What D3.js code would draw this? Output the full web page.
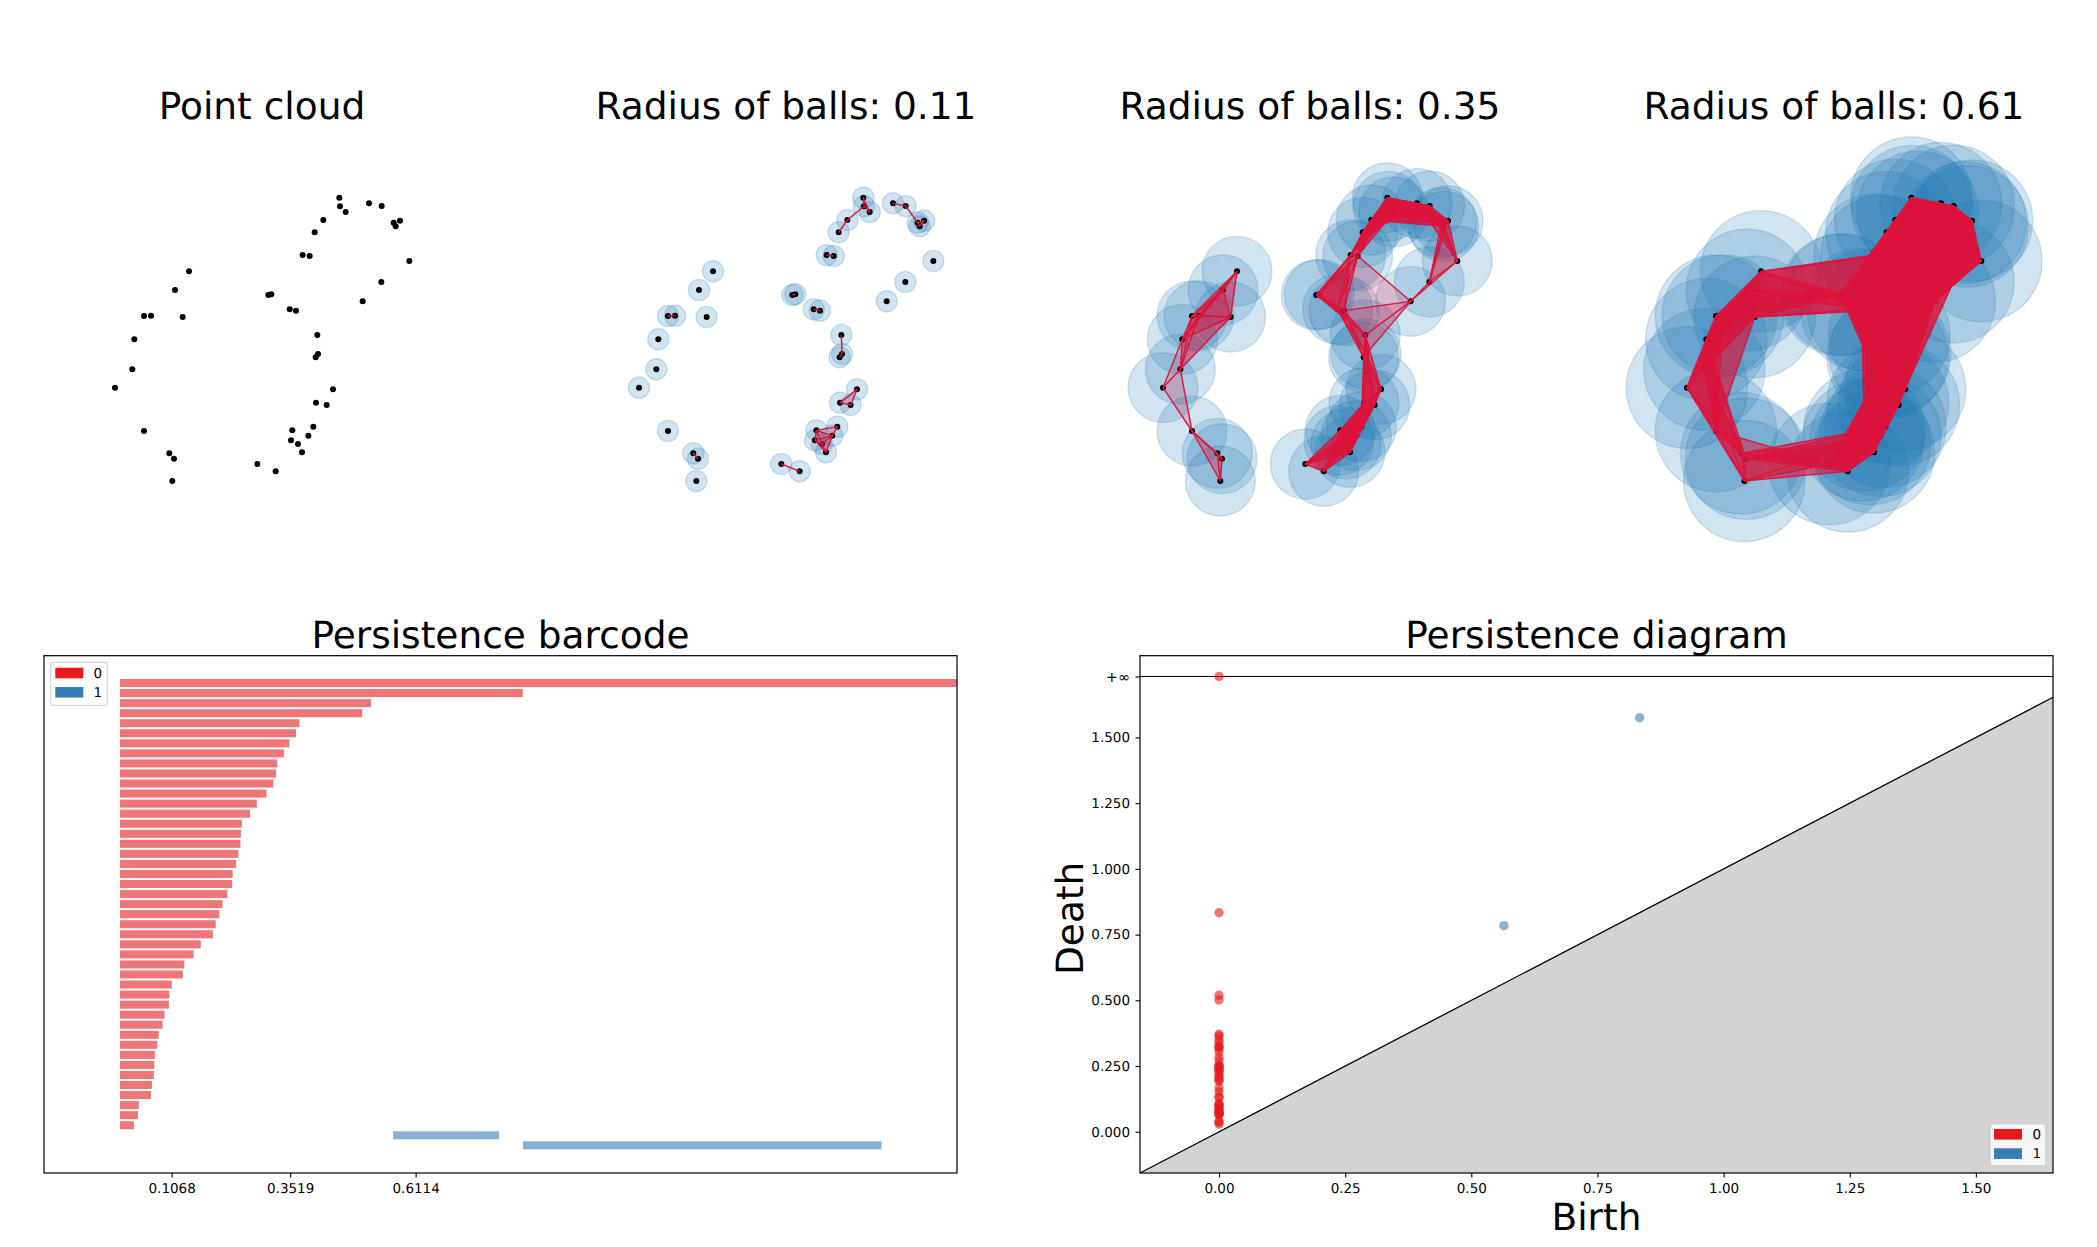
<!DOCTYPE html>
<html><head><meta charset="utf-8">
<script src="https://cdn.jsdelivr.net/npm/d3@7/dist/d3.min.js"></script>
<style>html,body{margin:0;padding:0;background:#fff}svg{display:block}text{font-family:"DejaVu Sans",sans-serif;fill:#000;text-rendering:geometricPrecision}</style>
</head><body><script>
// ---- data ----
const cloudX=[1.0977,.9567,.6445,.7150,1.0339,.5472,.5270,.3525,.6445,.8996,.9466,.9298,1.7858,1.9705,2.2357,2.1954,2.1249,2.1383,2.2994,2.3498,2.3766,2.4841,2.5478,2.3733,2.3968,2.3901,2.1115,2.1752,1.8966,1.9268,2.2424,2.3128,2.3632,2.4505,2.6116,2.6183,2.6754,2.9104,3.0379,3.1588,3.1789,3.2226,3.3165,3.0346,2.8466];
const cloudY=[2.1349,1.9470,1.6851,1.6885,1.6751,1.4502,1.1480,.9634,.5270,.3021,.2484,.0235,.1947,.1208,.3122,.3961,.4330,.5337,.4800,.5707,.8124,.7889,.9466,1.2689,1.3025,1.4938,1.7523,1.7389,1.8966,1.9033,2.2994,2.2894,2.5277,2.6519,2.8768,2.7895,2.7325,2.8197,2.7929,2.6250,2.5881,2.6452,2.2390,2.0275,1.8328];
const radii=[0.1068,0.3519,0.6114];
const panelTitles=["Point cloud","Radius of balls: 0.11","Radius of balls: 0.35","Radius of balls: 0.61"];
const deaths0=[.833,.519,.501,.371,.364,.350,.339,.325,.323,.317,.303,.283,.269,.252,.250,.249,.245,.240,.233,.232,.222,.212,.205,.198,.192,.167,.152,.133,.130,.107,.102,.101,.092,.088,.080,.077,.072,.071,.070,.066,.064,.039,.037,.029];
const births1=[.5646,.8335];
const deaths1=[.784,1.575];
const barTicks=[0.1068,0.3519,0.6114];
const diagXTicks=[0,.25,.5,.75,1,1.25,1.5];
const diagYTicks=[0,.25,.5,.75,1,1.25,1.5];
const INF_LEVEL=1.732;
const legendLabels=["0","1"];
const dimColors=["#e41a1c","#377eb8"];
// ---- layout ----
const W=2097,H=1247;
const svg=d3.select("body").append("svg").attr("width",W).attr("height",H);
const UNIT=99.3, PANEL_DX=524, EDGE_FACTOR=2.09;
const titleSize=37.5,tickSize=13.5;
const cx=d3.scaleLinear().domain([0,1]).range([80,80+UNIT]);
const cy=d3.scaleLinear().domain([0,1]).range([483.33,483.33-UNIT]);
const n=cloudX.length;
const dist=(a,b)=>Math.hypot(cloudX[a]-cloudX[b],cloudY[a]-cloudY[b]);

panelTitles.forEach((t,p)=>{
  const g=svg.append("g").attr("transform",`translate(${p*PANEL_DX},0)`);
  svg.append("text").attr("x",262+p*PANEL_DX).attr("y",119).attr("text-anchor","middle").attr("font-size",titleSize).text(t);
  const pts=d3.range(n);
  if(p>0){
    const r=radii[p-1];
    g.append("g").selectAll("circle").data(pts).join("circle")
      .attr("cx",i=>cx(cloudX[i])).attr("cy",i=>cy(cloudY[i])).attr("r",r*UNIT)
      .attr("fill","#1f77b4").attr("fill-opacity",.2).attr("stroke","#1f77b4").attr("stroke-opacity",.2).attr("stroke-width",1.4);
  }
  g.append("g").selectAll("circle").data(pts).join("circle")
    .attr("cx",i=>cx(cloudX[i])).attr("cy",i=>cy(cloudY[i])).attr("r",3).attr("fill","#000");
  if(p>0){
    const th=EDGE_FACTOR*radii[p-1];
    const edges=[],tris=[];
    for(let a=0;a<n;a++)for(let b=a+1;b<n;b++){
      if(dist(a,b)>th)continue;
      edges.push([a,b]);
      for(let c=b+1;c<n;c++) if(dist(a,c)<=th&&dist(b,c)<=th) tris.push([a,b,c]);
    }
    g.append("g").selectAll("polygon").data(tris).join("polygon")
      .attr("points",t=>t.map(i=>cx(cloudX[i])+","+cy(cloudY[i])).join(" "))
      .attr("fill","#dc143c").attr("fill-opacity",.2);
    g.append("g").selectAll("line").data(edges).join("line")
      .attr("x1",e=>cx(cloudX[e[0]])).attr("y1",e=>cy(cloudY[e[0]]))
      .attr("x2",e=>cx(cloudX[e[1]])).attr("y2",e=>cy(cloudY[e[1]]))
      .attr("stroke","#dc143c").attr("stroke-width",1.4);
  }
});

function frame(l,t,r,b,title){
  svg.append("rect").attr("x",l).attr("y",t).attr("width",r-l).attr("height",b-t).attr("fill","none").attr("stroke","#000").attr("stroke-width",1.2);
  svg.append("text").attr("x",(l+r)/2).attr("y",t-8).attr("text-anchor","middle").attr("font-size",titleSize).text(title);
}
function legend(x0,y0,w,h,px,rowsY,lx){
  const g=svg.append("g");
  g.append("rect").attr("x",x0).attr("y",y0).attr("width",w).attr("height",h).attr("rx",2.5)
    .attr("fill","#fff").attr("fill-opacity",.8).attr("stroke","#ccc").attr("stroke-opacity",.8).attr("stroke-width",1.2);
  legendLabels.forEach((lb,i)=>{
    g.append("rect").attr("x",px).attr("y",rowsY[i]).attr("width",28).attr("height",10.6).attr("fill",dimColors[i]);
    g.append("text").attr("x",lx).attr("y",rowsY[i]+10).attr("text-anchor","middle").attr("font-size",tickSize).text(lb);
  });
}
function styleAxis(a){
  a.select(".domain").remove();
  a.selectAll("line").attr("stroke","#000").attr("stroke-width",1.1);
  a.selectAll("text").attr("font-size",tickSize).attr("font-family",'"DejaVu Sans"');
}

// ---- barcode ----
{
  const L=44,R=957,T=655.7,B=1173;
  const x=d3.scaleLinear().domain([-0.1572,1.731]).range([L,R]);
  const bars=[{b:0,d:x.domain()[1],dim:0}]
    .concat(deaths0.map(d=>({b:0,d,dim:0})))
    .concat(births1.map((b,i)=>({b,d:deaths1[i],dim:1})));
  const y=d3.scaleBand().domain(d3.range(bars.length)).range([678,678+bars.length*10.05]).paddingInner(.2).paddingOuter(.1);
  svg.append("g").selectAll("rect").data(bars).join("rect")
    .attr("x",d=>x(d.b)).attr("width",d=>x(d.d)-x(d.b))
    .attr("y",(d,i)=>y(i)).attr("height",y.bandwidth())
    .attr("fill",d=>dimColors[d.dim]).attr("fill-opacity",.6);
  const ax=svg.append("g").attr("transform",`translate(0,${B})`)
    .call(d3.axisBottom(x).tickValues(barTicks).tickFormat(d3.format(".4f")).tickSize(4.5).tickPadding(6));
  styleAxis(ax);
  frame(L,T,R,B,"Persistence barcode");
  legend(50.7,662.3,56.6,43,55.3,[667.7,687],97.7);
}

// ---- diagram ----
{
  const L=1140,R=2053,T=655.7,B=1173;
  const x=d3.scaleLinear().domain([-0.1566,1.6528]).range([L,R]);
  const y=d3.scaleLinear().domain([-0.157,1.811]).range([B,T]);
  const [x0,x1]=x.domain();
  svg.append("polygon").attr("points",[[x0,y.domain()[0]],[x1,x1],[x1,y.domain()[0]]].map(p=>x(p[0])+","+y(p[1])).join(" ")).attr("fill","lightgrey");
  svg.append("line").attr("x1",x(x0)).attr("y1",y(y.domain()[0])).attr("x2",x(x1)).attr("y2",y(x1)).attr("stroke","#000").attr("stroke-width",1.3);
  svg.append("line").attr("x1",L).attr("x2",R).attr("y1",y(INF_LEVEL)).attr("y2",y(INF_LEVEL)).attr("stroke","#000").attr("stroke-width",1);
  const pts=[{b:0,d:INF_LEVEL,dim:0}].concat(deaths0.map(d=>({b:0,d,dim:0}))).concat(births1.map((b,i)=>({b,d:deaths1[i],dim:1})));
  svg.append("g").selectAll("circle").data(pts).join("circle")
    .attr("cx",d=>x(d.b)).attr("cy",d=>y(d.d)).attr("r",4.7)
    .attr("fill",d=>dimColors[d.dim]).attr("fill-opacity",.6);
  const ax=svg.append("g").attr("transform",`translate(0,${B})`)
    .call(d3.axisBottom(x).tickValues(diagXTicks).tickFormat(d3.format(".2f")).tickSize(4.5).tickPadding(6));
  styleAxis(ax);
  const ay=svg.append("g").attr("transform",`translate(${L},0)`)
    .call(d3.axisLeft(y).tickValues(diagYTicks.concat([INF_LEVEL])).tickFormat(d=>d===INF_LEVEL?"+\u221E":d3.format(".3f")(d)).tickSize(4.5).tickPadding(5.5));
  styleAxis(ay);
  ay.selectAll("text").filter(d=>d===INF_LEVEL).attr("font-size",14.5);
  frame(L,T,R,B,"Persistence diagram");
  svg.append("text").attr("x",(L+R)/2).attr("y",1230).attr("text-anchor","middle").attr("font-size",titleSize).text("Birth");
  svg.append("text").attr("transform",`translate(1083,${(T+B)/2+4}) rotate(-90)`).attr("text-anchor","middle").attr("font-size",titleSize).text("Death");
  legend(1990.3,1124,55.4,41.7,1994,[1129,1148.3],2036.7);
}
</script></body></html>
